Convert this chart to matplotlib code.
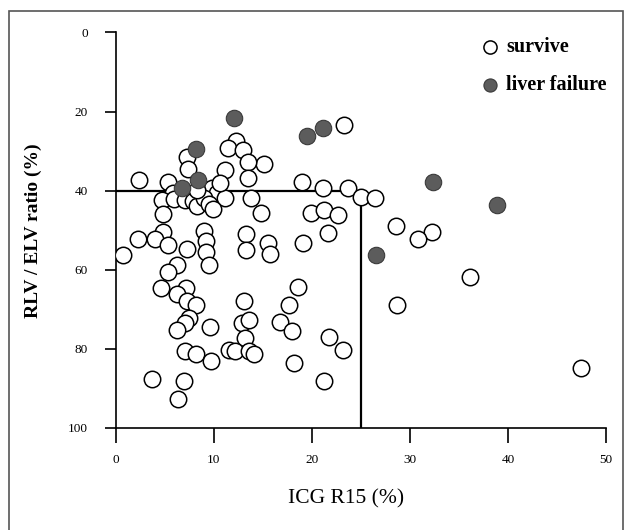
import matplotlib.pyplot as plt
from matplotlib.patches import Rectangle

# survive (open circles)
surv_x = [23.3, 12.3, 11.4, 13.0, 7.3, 7.4, 15.1, 11.1, 13.5, 13.5,
          2.4, 5.3, 19.0, 21.1, 23.7, 25.0, 26.4, 9.8, 10.3, 11.1,
          5.8, 4.7, 5.9, 7.1, 7.9, 8.3, 9.0, 9.5, 9.9, 10.6, 8.3,
          13.8, 14.8, 19.9, 21.2, 22.7, 4.8, 21.6, 28.6, 32.2, 30.8,
          4.8, 2.3, 4.0, 5.3, 9.0, 9.2, 9.2, 9.5, 7.3, 13.3,
          13.3, 15.5, 15.7, 19.1, 0.7, 6.2, 5.3, 36.1, 4.6, 7.2,
          6.2, 7.3, 8.2, 18.6, 13.1, 17.7, 28.7, 7.5, 7.1, 6.2,
          9.6, 12.9, 13.6, 16.8, 18.0, 21.7, 13.2, 7.1, 8.2, 11.5,
          12.2, 13.6, 14.1, 9.7, 23.2, 18.2, 3.7, 7.0, 21.2, 6.3,
          47.4]
surv_y = [23.5, 27.5, 29.3, 29.6, 31.5, 34.5, 33.3, 34.7, 32.7, 36.7,
          37.4, 37.9, 37.7, 39.3, 39.3, 41.5, 41.9, 39.3, 40.6, 41.9,
          40.6, 42.3, 42.2, 42.3, 42.6, 43.8, 41.8, 43.3, 44.6, 38.0, 39.8,
          41.9, 45.6, 45.6, 45.0, 46.1, 46.0, 50.8, 49.0, 50.4, 52.3,
          50.4, 52.3, 52.3, 53.7, 50.1, 52.7, 55.6, 58.8, 54.8, 51.0,
          55.0, 53.2, 56.0, 53.2, 56.3, 58.8, 60.6, 61.9, 64.5, 64.5,
          66.2, 67.9, 68.8, 64.4, 67.9, 68.8, 68.8, 72.2, 73.5, 75.2,
          74.4, 73.5, 72.6, 73.3, 75.4, 76.9, 77.3, 80.5, 81.2, 80.2,
          80.6, 80.5, 81.4, 83.0, 80.4, 83.6, 87.7, 88.0, 88.0, 92.7,
          84.9]

# liver failure (filled)
fail_x = [12.1, 8.2, 19.5, 21.1, 32.4, 38.9, 26.5, 6.8, 8.4]
fail_y = [21.5, 29.4, 26.2, 24.2, 37.7, 43.5, 56.3, 39.3, 37.3]

# cut-off lines
cut_x = 25
cut_y = 40

serif = 'Liberation Serif'

fig = plt.figure(figsize=(6.3, 5.3), dpi=100)
ax = fig.add_axes([0.1837, 0.1925, 0.7783, 0.7462])

ax.scatter(surv_x, surv_y, s=140, facecolors='white', edgecolors='black',
           linewidths=1.1, label='survive', zorder=3)
ax.scatter(fail_x, fail_y, s=140, facecolors='#5c5c5c', edgecolors='#3a3a3a',
           linewidths=0.8, label='liver failure', zorder=4)

ax.plot([0, cut_x], [cut_y, cut_y], color='black', linewidth=1.6, zorder=2)
ax.plot([cut_x, cut_x], [cut_y, 100], color='black', linewidth=1.6, zorder=2)

ax.set_xlim(0, 50)
ax.set_ylim(100, 0)
ax.set_xticks([0, 10, 20, 30, 40, 50])
ax.set_yticks([0, 20, 40, 60, 80, 100])

for sp in ['top', 'right']:
    ax.spines[sp].set_visible(False)
ax.spines['left'].set_linewidth(1.2)
ax.spines['bottom'].set_linewidth(1.2)

ax.tick_params(axis='x', direction='out', length=11, width=1.2, pad=8,
               labelsize=9.5)
ax.tick_params(axis='y', direction='out', length=8, width=1.2, pad=12,
               labelsize=9.5)
for lab in ax.get_xticklabels() + ax.get_yticklabels():
    lab.set_family(serif)

ax.set_xlabel('ICG R15 (%)', fontsize=15.5, family=serif)
ax.xaxis.set_label_coords(0.47, -0.155)
ax.set_ylabel('RLV / ELV ratio (%)', fontsize=14, family=serif,
              fontweight='bold')
ax.yaxis.set_label_coords(-0.15, 0.5)

ax.legend(loc='upper left', bbox_to_anchor=(471 / 630, 1 - 27 / 530),
          bbox_transform=fig.transFigure, frameon=False,
          prop={'family': serif, 'weight': 'bold', 'size': 14.5},
          handlelength=0.9, handletextpad=0.35, labelspacing=0.9,
          borderpad=0, markerscale=0.8)

# рамка вокруг всей картинки
fig.patches.append(Rectangle((9 / 630, -0.02), 614 / 630, 1 - 11 / 530 + 0.02,
                             transform=fig.transFigure, fill=False,
                             edgecolor='#555555', linewidth=1.2))

plt.savefig('out.png', dpi=100)
